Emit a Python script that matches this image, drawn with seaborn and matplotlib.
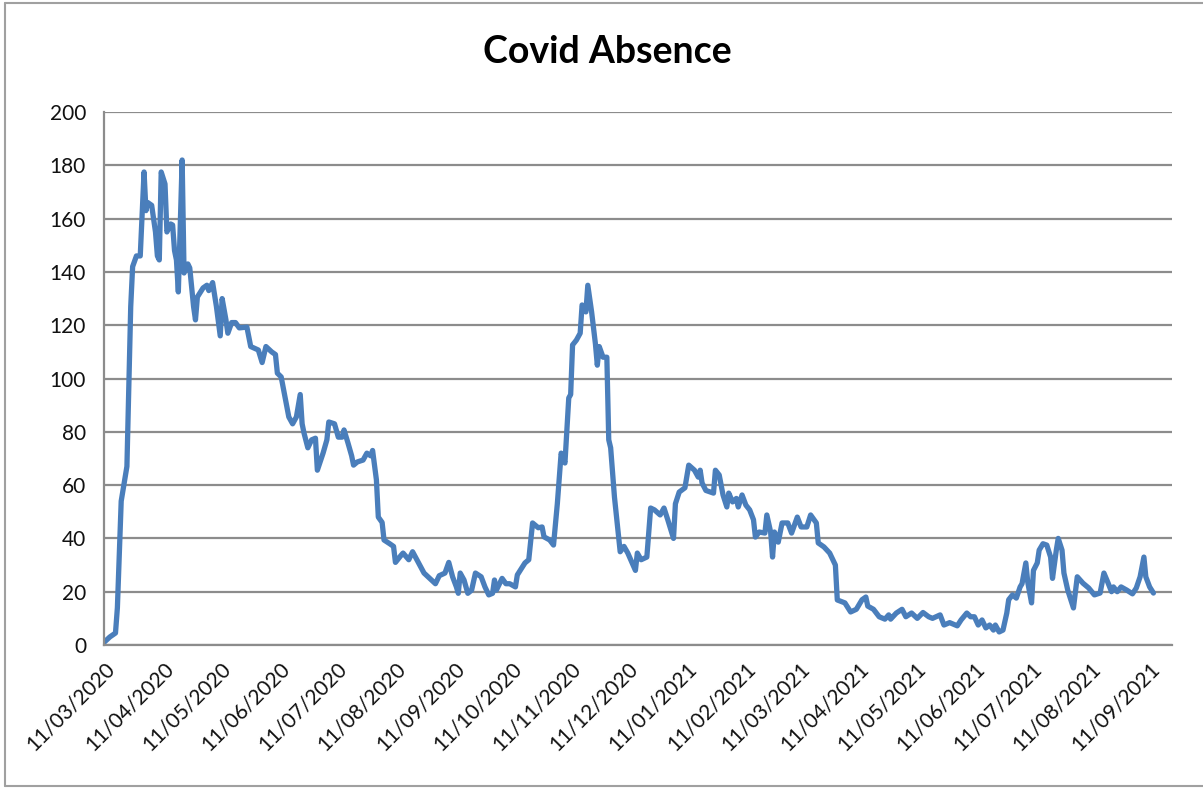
import pandas as pd
import seaborn as sns
import matplotlib.pyplot as plt
import matplotlib.dates as mdates
from matplotlib.lines import Line2D

# days since 11/03/2020
day_offset = [
    0, 3, 6, 7, 9, 12, 14, 15, 17, 19, 21, 22, 23, 25, 27, 28, 29, 30, 32, 33,
    35, 36, 37, 38, 39, 41, 42, 44, 45, 47, 48, 49, 52, 54, 55, 57, 59, 61, 62, 64,
    65, 67, 69, 71, 75, 77, 81, 83, 85, 88, 90, 91, 93, 96, 97, 99, 101, 103, 104, 105,
    107, 109, 111, 112, 115, 117, 118, 121, 123, 125, 126, 128, 130, 131, 133, 136, 138, 140, 141, 143,
    144, 146, 147, 150, 152, 153, 156, 157, 160, 162, 165, 168, 171, 174, 176, 179, 181, 183, 185, 186,
    187, 189, 191, 193, 195, 198, 200, 202, 204, 205, 206, 209, 211, 213, 216, 217, 221, 223, 225, 228,
    230, 231, 234, 236, 238, 240, 242, 244, 245, 246, 248, 250, 251, 253, 254, 256, 258, 259, 260, 262,
    264, 265, 266, 268, 271, 273, 275, 279, 280, 282, 285, 287, 289, 292, 294, 296, 299, 300, 302, 305,
    307, 310, 312, 313, 314, 316, 320, 321, 323, 325, 327, 328, 330, 332, 333, 335, 337, 339, 341, 342,
    344, 347, 348, 350, 351, 352, 354, 356, 359, 361, 364, 366, 369, 371, 374, 375, 378, 381, 384, 385,
    389, 392, 395, 398, 400, 401, 404, 407, 410, 412, 413, 416, 419, 421, 424, 427, 430, 433, 435, 439,
    441, 444, 448, 450, 453, 455, 457, 459, 461, 463, 465, 467, 468, 470, 472, 474, 475, 477, 479, 481,
    482, 484, 485, 487, 488, 490, 491, 493, 495, 497, 498, 500, 501, 503, 504, 506, 509, 511, 514, 517,
    520, 523, 525, 527, 529, 530, 532, 534, 537, 540, 542, 544, 546, 547, 549, 551,
]
absence = [
    1, 3, 4.5, 14, 54, 67, 127, 142, 146, 146, 177.5, 163, 166, 165, 155, 146, 144.5, 177.5, 173, 155,
    158, 157.6, 148, 144.5, 132.5, 182, 139.6, 143, 141.5, 127, 122, 130.6, 134, 135, 133, 136, 127, 116, 130, 122,
    117, 121, 121, 119, 119.3, 112, 110.7, 106, 112, 110, 109, 102, 100.6, 89.4, 85.6, 83, 85.6, 94, 83, 79.5,
    74, 77, 77.6, 65.6, 72, 77, 83.7, 83, 78, 78, 80.7, 76, 71, 67.5, 68.7, 69.4, 72, 71, 73, 62,
    48, 46, 39.4, 38, 37, 31, 33.7, 34.5, 32, 35, 31, 27, 25, 23, 26, 27, 31, 25.6, 21.8, 19.4,
    27, 24.4, 19.4, 20.6, 27, 25.6, 21.8, 18.8, 19.4, 24.4, 20.6, 25, 23, 23, 21.8, 26.3, 30.8, 32, 45.8, 44,
    44.3, 40.6, 39.4, 37.5, 53, 72, 68.3, 92.7, 94, 112.6, 114.4, 117, 127.6, 125, 135, 125, 113, 105, 112, 108,
    108, 77, 74, 55.5, 35, 37, 34.5, 28, 34.5, 32, 33, 51.4, 50.7, 48.8, 51.4, 47, 40, 53, 57.4, 59,
    67.5, 65.6, 63, 65.6, 60.8, 58, 57, 65.6, 63.8, 56.3, 51.8, 57, 53.7, 55, 51.8, 56.3, 52.5, 50.7, 47, 40.5,
    42.4, 42, 48.8, 42.4, 33, 42.4, 38.6, 45.8, 45.8, 42, 48, 44.3, 44.3, 48.8, 45.8, 38.3, 36.8, 34.5, 30, 16.9,
    15.8, 12.4, 13.4, 17, 18, 14.6, 13.4, 10.6, 9.7, 11.3, 9.7, 12, 13.4, 10.6, 12, 10, 12.2, 10.6, 10, 11.3,
    7.5, 8.4, 7.2, 9.4, 12, 10.6, 10.6, 7.5, 9.4, 6.4, 7.5, 5.6, 7.5, 4.9, 5.6, 12, 17, 18.8, 17.6, 21.8,
    23, 30.8, 23.6, 15.8, 28, 30.8, 35.6, 38, 37.5, 33, 25, 35.6, 40, 35.6, 27, 20.6, 13.9, 25.6, 23.2, 21.4,
    18.8, 19.5, 27, 23.6, 20, 21.8, 20, 21.8, 20.6, 19.2, 21.4, 25.6, 33, 25.6, 21.8, 19.5,
]

start = pd.Timestamp("2020-03-11")
df = pd.DataFrame({
    "date": start + pd.to_timedelta(day_offset, unit="D"),
    "absence": absence,
})

sns.set_style("white")
plt.rcParams["font.family"] = ["Lato", "DejaVu Sans"]

fig = plt.figure(figsize=(12.03, 7.89), dpi=100)
ax = fig.add_axes([0.0865, 0.1825, 0.8875, 0.6755])

sns.lineplot(data=df, x="date", y="absence", color="#4A7EBB", linewidth=3.8, ax=ax)

ax.set_xlim(start, start + pd.Timedelta(days=560.6))
ax.set_ylim(0, 200)
ax.set_yticks(range(0, 201, 20))
ax.xaxis.set_major_locator(mdates.MonthLocator(bymonthday=11))
ax.xaxis.set_major_formatter(mdates.DateFormatter("%d/%m/%Y"))

ax.grid(axis="y", color="#8C8C8C", linewidth=1.6)
ax.grid(axis="x", visible=False)
ax.set_axisbelow(True)
for side in ["top", "right"]:
    ax.spines[side].set_visible(False)
for side in ["left", "bottom"]:
    ax.spines[side].set_color("#8C8C8C")
    ax.spines[side].set_linewidth(1.6)

ax.tick_params(axis="both", which="major", direction="out", length=6, width=1.4,
               color="#8C8C8C", labelsize=15, labelcolor="#111111")
ax.tick_params(axis="y", pad=7)
for lbl in ax.get_xticklabels():
    lbl.set_rotation(45)
    lbl.set_ha("right")
    lbl.set_rotation_mode("anchor")

ax.set_xlabel("")
ax.set_ylabel("")
fig.suptitle("Covid Absence", x=0.505, y=0.934, va="center", fontsize=27,
             fontweight="bold", color="black")

# outer chart frame
for xs, ys in [([0.004, 0.004], [0.004, 0.996]), ([0.004, 1.0], [0.996, 0.996]),
               ([0.004, 1.0], [0.004, 0.004])]:
    fig.add_artist(Line2D(xs, ys, transform=fig.transFigure, color="#A0A0A0", linewidth=1.5))

fig.savefig("out.png", dpi=100, facecolor="white")
